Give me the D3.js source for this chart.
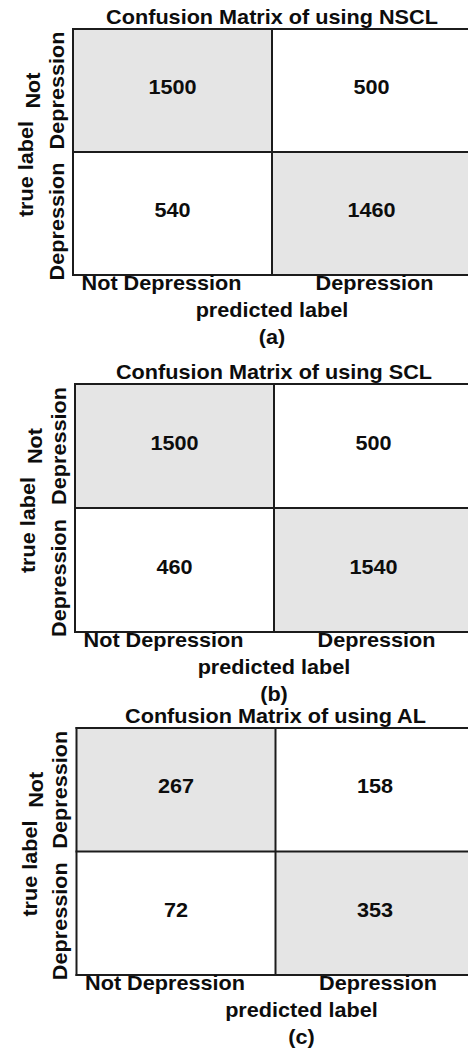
<!DOCTYPE html>
<html>
<head>
<meta charset="utf-8">
<script src="https://cdn.jsdelivr.net/npm/d3@7"></script>
<style>
  html, body { margin: 0; padding: 0; background: #fff; overflow: hidden; }
  svg { display: block; }
  text { font-family: "Liberation Sans", Arial, sans-serif; font-weight: bold; fill: #0d0d0d; }
</style>
</head>
<body>
<script>
// ---- data ----
const titles = ["Confusion Matrix of using NSCL", "Confusion Matrix of using SCL", "Confusion Matrix of using AL"];
const panelTags = ["(a)", "(b)", "(c)"];
const classLabels = ["Not Depression", "Depression"];
const xAxisTitle = "predicted label";
const yAxisTitle = "true label";
const nsclValues = [[1500, 500], [540, 1460]];
const sclValues = [[1500, 500], [460, 1540]];
const alValues = [[267, 158], [72, 353]];
const matrices = [nsclValues, sclValues, alValues];

// ---- layout ----
const W = 468, H = 1050;
const FS = 19.5, SX = 1.11;
const panels = [
  { left: 73, top: 29, bottom: 275, cellW: 199, footDx: 0 },
  { left: 75, top: 384, bottom: 632, cellW: 199, footDx: 0 },
  { left: 76.5, top: 728, bottom: 975, cellW: 199, footDx: 26 }
];
const lineColor = "#1c1c1c";

const svg = d3.select("body").append("svg").attr("width", W).attr("height", H);

function stretchedText(g, x, y, str, anchor) {
  return g.append("text")
    .attr("transform", `translate(${x},${y}) scale(${SX},1)`)
    .attr("text-anchor", anchor || "middle")
    .attr("font-size", FS)
    .text(str);
}

matrices.forEach((vals, pi) => {
  const p = panels[pi];
  const g = svg.append("g");
  const x = d3.scaleBand().domain(classLabels).range([p.left, p.left + 2 * p.cellW]);
  const y = d3.scaleBand().domain(classLabels).range([p.top, p.bottom]);
  const midX = x(classLabels[1]);

  const cells = [];
  vals.forEach((row, ri) => {
    const rowMax = d3.max(row);
    row.forEach((v, ci) => cells.push({ r: classLabels[ri], c: classLabels[ci], v, hi: v === rowMax }));
  });

  g.selectAll("rect.cell").data(cells).join("rect")
    .attr("class", "cell")
    .attr("x", d => x(d.c)).attr("y", d => y(d.r))
    .attr("width", x.bandwidth()).attr("height", y.bandwidth())
    .attr("fill", d => d.hi ? "#e5e5e5" : "#ffffff");

  // grid lines (the right edge of the frame lies outside the picture)
  const [x0, x1] = x.range();
  const [y0, y1] = y.range();
  const hLines = [y0, y(classLabels[1]), y1];
  const vLines = [x0, x(classLabels[1]), x1];
  g.selectAll("line.h").data(hLines).join("line").attr("class", "h")
    .attr("x1", x0 - 1).attr("x2", x1 + 1).attr("y1", d => d).attr("y2", d => d)
    .attr("stroke", lineColor).attr("stroke-width", 2);
  g.selectAll("line.v").data(vLines).join("line").attr("class", "v")
    .attr("y1", y0 - 1).attr("y2", y1 + 1).attr("x1", d => d).attr("x2", d => d)
    .attr("stroke", lineColor).attr("stroke-width", 2);

  cells.forEach(d => {
    stretchedText(g, x(d.c) + x.bandwidth() / 2, y(d.r) + y.bandwidth() / 2 + 3.5, d.v);
  });

  stretchedText(g, midX, p.top - 5.5, titles[pi]);

  const xOff = [-11, 3];
  classLabels.forEach((lab, i) => {
    stretchedText(g, x(lab) + x.bandwidth() / 2 + xOff[i], p.bottom + 15, lab);
  });
  stretchedText(g, midX + p.footDx, p.bottom + 42, xAxisTitle);
  stretchedText(g, midX + p.footDx, p.bottom + 69, panelTags[pi]);

  const yOff = [0, 8];
  classLabels.forEach((lab, i) => {
    const words = lab.split(" ");
    const cy = y(lab) + y.bandwidth() / 2 + yOff[i];
    const t = g.append("text")
      .attr("transform", `translate(0,${cy}) rotate(-90) scale(${SX},1)`)
      .attr("text-anchor", "middle")
      .attr("font-size", FS);
    const baseLast = p.left - 9;
    words.forEach((w, wi) => {
      t.append("tspan").attr("x", 0).attr("y", baseLast - (words.length - 1 - wi) * 24).text(w);
    });
  });

  g.append("text")
    .attr("transform", `translate(${p.left - 40},${(p.top + p.bottom) / 2 + 17}) rotate(-90) scale(${SX},1)`)
    .attr("text-anchor", "middle")
    .attr("font-size", FS)
    .text(yAxisTitle);
});
</script>
</body>
</html>
